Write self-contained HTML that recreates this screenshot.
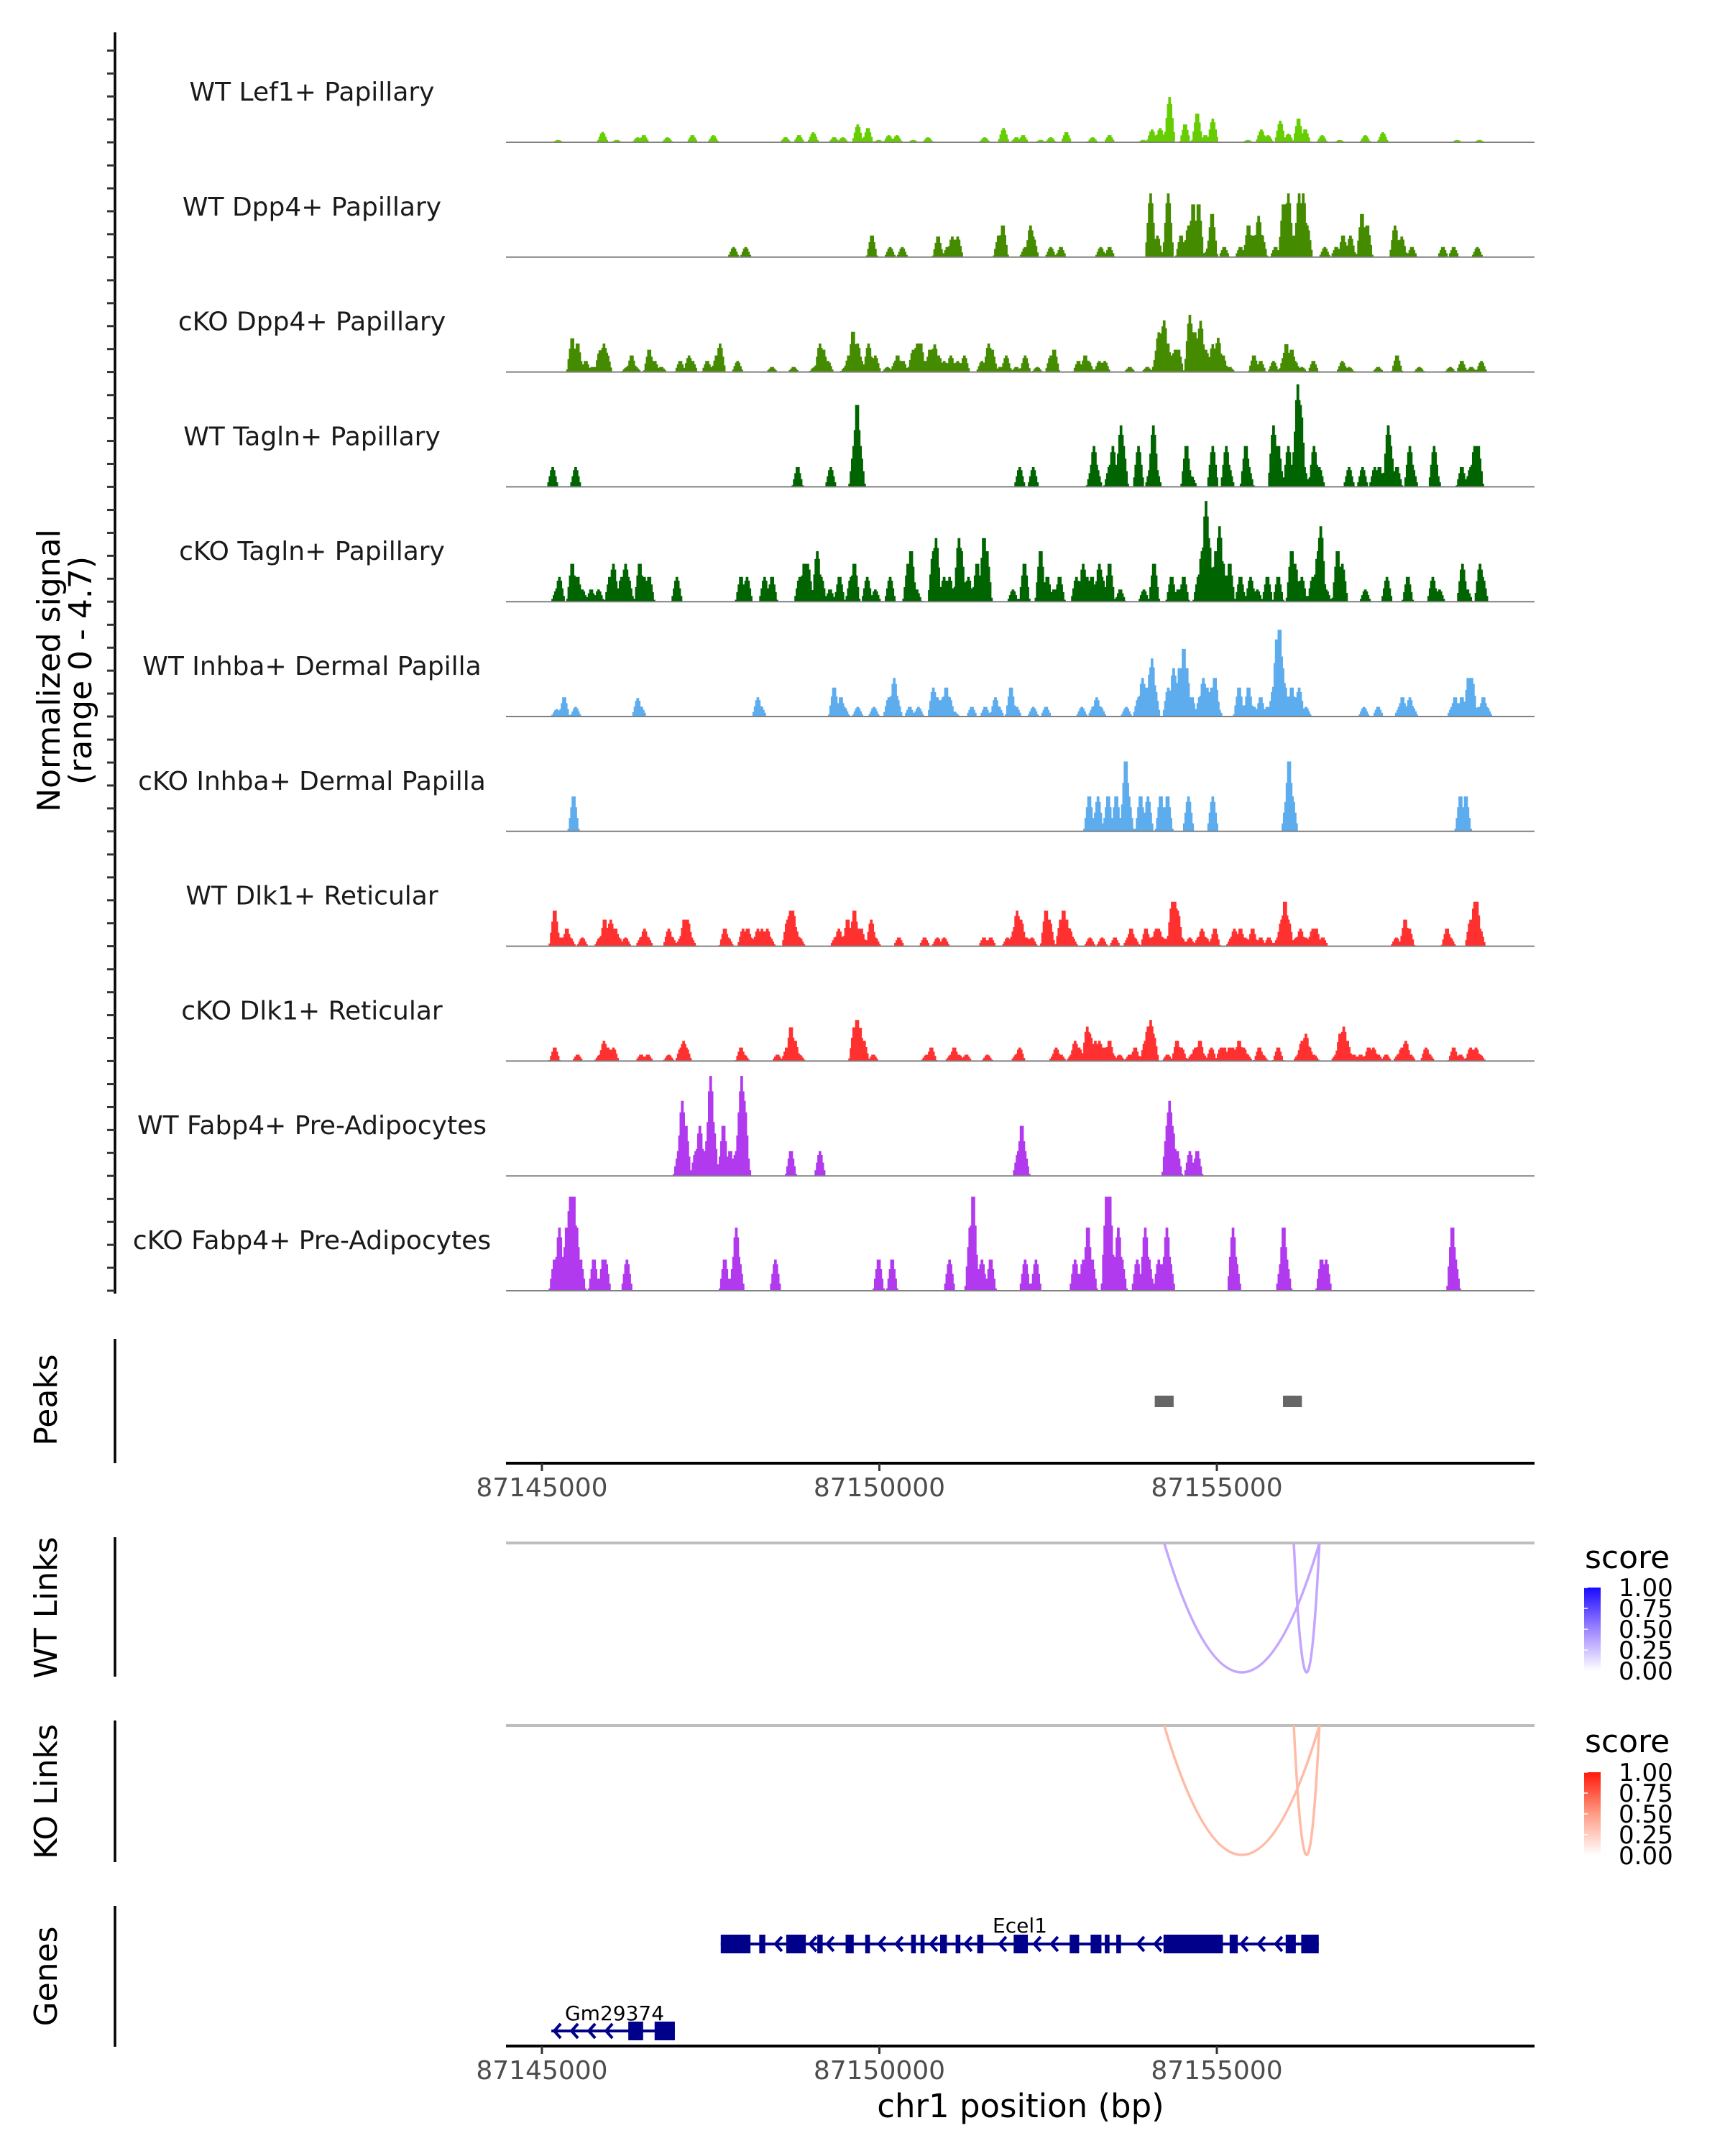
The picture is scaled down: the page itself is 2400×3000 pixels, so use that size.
<!DOCTYPE html>
<html><head><meta charset="utf-8"><title>Coverage plot chr1</title>
<style>
html,body{margin:0;padding:0;background:#fff;}
svg{display:block;font-family:"DejaVu Sans","Liberation Sans",sans-serif;}
</style></head>
<body>
<svg id="chart" xmlns="http://www.w3.org/2000/svg" width="2400" height="3000" viewBox="0 0 2400 3000">
<defs>
<linearGradient id="gradBlue" x1="0" y1="0" x2="0" y2="1"><stop offset="0" stop-color="#1a0aff"/><stop offset="0.5" stop-color="#9d85ff"/><stop offset="1" stop-color="#ffffff"/></linearGradient>
<linearGradient id="gradRed" x1="0" y1="0" x2="0" y2="1"><stop offset="0" stop-color="#ff1a0a"/><stop offset="0.5" stop-color="#ff9c85"/><stop offset="1" stop-color="#ffffff"/></linearGradient>
</defs>
<rect x="0" y="0" width="2400" height="3000" fill="#ffffff"/>
<g font-size="44" fill="#000">
<text transform="translate(83,933) rotate(-90)" text-anchor="middle">Normalized signal</text>
<text transform="translate(127,933) rotate(-90)" text-anchor="middle">(range 0 - 4.7)</text>
</g>
<text transform="translate(79,1948) rotate(-90)" text-anchor="middle" font-size="44">Peaks</text>
<text transform="translate(79,2237) rotate(-90)" text-anchor="middle" font-size="44">WT Links</text>
<text transform="translate(79,2493) rotate(-90)" text-anchor="middle" font-size="44">KO Links</text>
<text transform="translate(79,2750) rotate(-90)" text-anchor="middle" font-size="44">Genes</text>
<text x="1420" y="2946" text-anchor="middle" font-size="45">chr1 position (bp)</text>
<g id="legends"></g>
</svg>
<script>
// ---------- data ----------
const trackNames = ["WT Lef1+ Papillary","WT Dpp4+ Papillary","cKO Dpp4+ Papillary","WT Tagln+ Papillary","cKO Tagln+ Papillary","WT Inhba+ Dermal Papilla","cKO Inhba+ Dermal Papilla","WT Dlk1+ Reticular","cKO Dlk1+ Reticular","WT Fabp4+ Pre-Adipocytes","cKO Fabp4+ Pre-Adipocytes"];
const trackColors = ["#66cd00","#458b00","#458b00","#006400","#006400","#5cacee","#5cacee","#ff3030","#ff3030","#b23aee","#b23aee"];
// signal peaks: [kb offset from DATA_ORIGIN, normalized signal]
const sigLef1 = [[0.18,.1],[0.84,.45],[1.05,.1],[1.36,.22],[1.45,.31],[1.8,.22],[2.17,.31],[2.48,.31],[3.55,.22],[3.75,.31],[3.96,.44],[4.27,.22],[4.4,.22],[4.62,.78],[4.77,.62],[4.93,.1],[5.08,.31],[5.2,.31],[5.44,.1],[5.66,.22],[6.5,.22],[6.78,.62],[6.97,.22],[7.07,.31],[7.33,.1],[7.48,.22],[7.71,.44],[8.1,.22],[8.35,.31],[8.85,.1],[8.98,.56],[9.1,.62],[9.24,1.97],[9.47,.78],[9.65,1.25],[9.77,.31],[9.88,1.03],[10.4,.1],[10.6,.56],[10.7,.31],[10.88,.94],[11.0,.38],[11.15,1.03],[11.25,.56],[11.5,.31],[11.76,.1],[12.14,.31],[12.4,.44],[13.5,.1],[13.83,.1]];
const sigWtDpp4 = [[2.78,.44],[2.96,.44],[4.83,.94],[5.1,.44],[5.28,.44],[5.81,.9],[5.95,.44],[6.02,.9],[6.1,.9],[6.71,.94],[6.77,1.38],[7.1,.44],[7.18,1.38],[7.22,.9],[7.48,.44],[7.63,.44],[8.22,.44],[8.35,.44],[8.96,2.78],[9.06,.94],[9.22,2.78],[9.41,.94],[9.52,1.38],[9.59,2.3],[9.67,2.3],[9.82,.44],[9.87,1.88],[10.05,.44],[10.29,.44],[10.41,1.38],[10.49,.94],[10.56,1.8],[10.61,.94],[10.81,.44],[10.93,2.3],[11.0,2.78],[11.08,.94],[11.16,2.78],[11.22,2.78],[11.28,1.38],[11.54,.44],[11.71,.44],[11.81,.94],[11.92,.94],[12.09,1.88],[12.17,1.38],[12.58,1.38],[12.68,.9],[12.83,.44],[13.29,.44],[13.45,.44],[13.8,.44]];
const sigKoDpp4 = [[.39,1.47],[.47,1.24],[.59,.48],[.69,.22],[.8,.95],[.86,1.24],[.9,.84],[1.2,.22],[1.27,.72],[1.33,.22],[1.53,.97],[1.61,.48],[1.71,.22],[1.99,.48],[2.12,.72],[2.17,.48],[2.39,.48],[2.43,.22],[2.53,.72],[2.58,1.24],[2.84,.48],[3.35,.22],[3.67,.22],[3.98,.22],[4.06,1.24],[4.11,.97],[4.18,.48],[4.44,.22],[4.49,.72],[4.55,1.75],[4.62,1.24],[4.67,.48],[4.78,1.24],[4.88,.72],[5.06,.22],[5.18,.48],[5.21,.72],[5.29,.48],[5.44,.97],[5.5,1.24],[5.55,1.24],[5.61,.48],[5.69,.97],[5.76,1.2],[5.82,.72],[5.9,.48],[6.0,.72],[6.1,.48],[6.2,.72],[6.46,.48],[6.56,1.24],[6.61,.97],[6.73,.22],[6.82,.72],[6.97,.22],[7.1,.72],[7.28,.22],[7.48,.72],[7.53,.97],[7.89,.48],[7.99,.72],[8.04,.48],[8.2,.48],[8.28,.48],[8.65,.22],[8.91,.22],[9.06,.97],[9.08,1.73],[9.14,1.99],[9.16,2.25],[9.21,1.24],[9.27,.72],[9.32,.97],[9.37,.97],[9.54,2.49],[9.61,1.73],[9.67,1.47],[9.7,2.23],[9.78,.97],[9.88,1.21],[9.96,1.49],[10.03,.72],[10.13,.22],[10.49,.72],[10.59,.48],[10.78,.48],[10.94,.72],[10.97,1.21],[11.05,.97],[11.1,.48],[11.2,.22],[11.37,.48],[11.8,.48],[11.9,.22],[12.33,.22],[12.61,.72],[12.94,.22],[13.4,.22],[13.57,.48],[13.71,.22],[13.86,.48]];
const sigWtTagln = [[.1,.86],[.44,.86],[3.73,.86],[4.22,.86],[4.57,1.78],[4.61,3.57],[4.65,1.78],[7.02,.86],[7.22,.86],[8.09,.86],[8.12,1.78],[8.16,.86],[8.35,.86],[8.4,1.78],[8.45,.86],[8.52,2.68],[8.55,1.78],[8.78,1.78],[8.96,.86],[9.0,2.68],[9.04,.86],[9.49,1.78],[9.52,.86],[9.57,.43],[9.88,1.78],[10.08,1.78],[10.12,.86],[10.37,1.78],[10.41,.86],[10.78,2.68],[10.85,1.78],[11.0,1.78],[11.1,1.78],[11.14,4.47],[11.18,3.57],[11.23,.86],[11.38,1.78],[11.46,.86],[11.9,.86],[12.1,.86],[12.28,.86],[12.35,.86],[12.48,2.68],[12.51,1.78],[12.61,.86],[12.8,1.78],[12.84,.86],[13.16,1.78],[13.18,.86],[13.57,.86],[13.7,.86],[13.76,1.78],[13.81,1.78]];
const sigKoTagln = [[.16,.53],[.2,1.08],[.39,1.65],[.47,1.08],[.54,.53],[.67,.53],[.78,.53],[.95,1.08],[1.0,1.65],[1.06,.53],[1.12,1.08],[1.18,1.65],[1.22,1.08],[1.39,1.65],[1.46,1.08],[1.53,1.08],[1.94,1.08],[2.89,1.08],[2.98,1.08],[3.24,1.08],[3.35,1.08],[3.76,1.08],[3.83,1.65],[3.88,1.65],[4.02,2.2],[4.08,1.08],[4.21,.53],[4.35,1.08],[4.52,1.08],[4.57,1.65],[4.76,1.08],[4.88,.53],[5.1,1.08],[5.37,1.65],[5.41,2.2],[5.49,.53],[5.74,2.2],[5.78,2.77],[5.9,1.08],[5.98,1.08],[6.12,2.77],[6.15,2.2],[6.26,1.08],[6.39,1.65],[6.49,2.77],[6.53,2.2],[6.92,.53],[7.09,1.65],[7.33,2.2],[7.43,1.08],[7.53,.53],[7.61,1.08],[7.86,1.08],[7.96,1.65],[8.02,1.08],[8.09,1.08],[8.2,1.65],[8.24,1.08],[8.35,1.65],[8.51,.53],[8.86,.53],[9.01,1.65],[9.27,1.08],[9.37,.53],[9.45,1.08],[9.67,1.08],[9.72,2.2],[9.78,4.39],[9.82,2.77],[9.93,2.2],[9.98,3.29],[10.03,1.65],[10.13,1.65],[10.29,1.08],[10.44,1.08],[10.54,.53],[10.69,1.08],[10.85,1.08],[11.05,2.2],[11.1,1.65],[11.2,1.08],[11.36,1.08],[11.44,2.2],[11.48,3.29],[11.56,.53],[11.73,2.2],[11.8,1.65],[12.14,.53],[12.46,1.08],[12.77,1.08],[13.14,1.08],[13.24,.53],[13.58,1.65],[13.65,.53],[13.84,1.65],[13.88,1.08]];
const sigWtInhba = [[.16,.32],[.27,.84],[.44,.42],[1.36,.81],[1.41,.42],[3.14,.84],[3.19,.42],[4.27,1.26],[4.37,.84],[4.42,.42],[4.62,.42],[4.86,.42],[5.08,.84],[5.16,1.68],[5.2,.84],[5.39,.42],[5.52,.42],[5.74,1.26],[5.8,.84],[5.88,.84],[5.93,1.26],[5.98,.84],[6.05,.21],[6.31,.42],[6.51,.42],[6.66,.84],[6.71,.42],[6.89,1.26],[6.97,.42],[7.22,.42],[7.41,.42],[7.94,.42],[8.11,.42],[8.16,.84],[8.22,.42],[8.6,.42],[8.78,.84],[8.84,1.68],[8.89,1.26],[8.96,2.15],[8.98,2.53],[9.02,1.26],[9.22,1.26],[9.3,2.11],[9.35,1.26],[9.39,2.11],[9.45,2.95],[9.49,2.11],[9.57,.84],[9.69,.84],[9.74,1.68],[9.8,1.26],[9.86,1.26],[9.91,1.68],[9.95,.42],[10.27,1.26],[10.34,.42],[10.41,1.26],[10.49,.42],[10.59,.84],[10.69,.42],[10.78,1.26],[10.83,3.36],[10.87,3.78],[10.91,2.11],[10.95,1.26],[11.05,1.26],[11.1,.84],[11.16,1.26],[11.26,.42],[12.12,.42],[12.33,.42],[12.65,.42],[12.69,.84],[12.8,.84],[12.84,.42],[13.43,.42],[13.47,.84],[13.57,.84],[13.67,1.68],[13.72,1.68],[13.83,.42],[13.89,.84],[13.94,.42]];
const sigKoInhba = [[.41,1.52],[8.05,1.52],[8.18,1.52],[8.33,1.52],[8.45,1.52],[8.59,3.05],[8.63,1.52],[8.81,1.52],[8.92,1.52],[9.11,1.52],[9.21,1.52],[9.52,1.52],[9.88,1.52],[10.98,1.52],[11.01,3.05],[11.06,1.52],[13.55,1.52],[13.63,1.52]];
const sigWtDlk1 = [[.13,1.55],[.23,.38],[.31,.76],[.36,.38],[.54,.38],[.8,.38],[.87,1.16],[.92,.76],[.96,1.16],[1.03,.76],[1.08,.38],[1.18,.38],[1.41,.38],[1.46,.76],[1.51,.38],[1.82,.76],[1.87,.38],[2.0,.38],[2.05,1.16],[2.1,1.16],[2.15,.38],[2.65,.76],[2.7,.38],[2.92,.76],[2.99,.76],[3.04,.38],[3.14,.76],[3.2,.76],[3.28,.76],[3.32,.38],[3.58,1.16],[3.62,1.55],[3.66,1.55],[3.7,.76],[3.76,.38],[4.29,.38],[4.34,.76],[4.4,.38],[4.47,1.16],[4.52,.76],[4.57,1.55],[4.62,.76],[4.67,.76],[4.82,1.16],[4.88,.38],[5.23,.38],[5.61,.38],[5.8,.38],[5.9,.38],[6.49,.38],[6.59,.38],[6.84,.38],[6.94,.76],[6.98,1.55],[7.04,1.16],[7.12,.38],[7.2,.38],[7.41,1.55],[7.46,1.16],[7.63,1.16],[7.67,1.55],[7.71,1.16],[7.76,.76],[7.8,.38],[8.06,.38],[8.24,.38],[8.43,.38],[8.63,.38],[8.67,.76],[8.72,.38],[8.89,.76],[8.96,.38],[9.04,.76],[9.08,.76],[9.14,.38],[9.22,.38],[9.28,1.94],[9.32,1.94],[9.36,1.55],[9.42,.38],[9.54,.38],[9.67,.38],[9.72,.76],[9.78,.38],[9.88,.38],[9.91,.76],[10.16,.38],[10.2,.76],[10.29,.76],[10.36,.38],[10.47,.76],[10.59,.38],[10.71,.38],[10.85,.38],[10.9,1.16],[10.95,1.94],[11.0,1.16],[11.12,.38],[11.18,.76],[11.26,.38],[11.36,.76],[11.41,.76],[11.51,.38],[12.6,.38],[12.73,1.16],[12.79,.76],[13.35,.76],[13.4,.38],[13.7,1.16],[13.76,1.94],[13.79,1.94],[13.84,.76]];
const sigKoDlk1 = [[.13,.59],[.47,.28],[.8,.28],[.86,.88],[.92,.59],[1.0,.59],[1.41,.28],[1.51,.28],[1.82,.28],[2.0,.59],[2.04,.88],[2.08,.59],[2.89,.59],[2.94,.28],[3.43,.28],[3.57,.59],[3.63,1.47],[3.69,.88],[3.76,.28],[4.57,1.47],[4.61,1.79],[4.65,1.45],[4.71,.88],[4.85,.28],[5.64,.28],[5.71,.59],[6.0,.28],[6.05,.59],[6.12,.28],[6.23,.28],[6.54,.28],[6.97,.28],[7.02,.59],[7.53,.28],[7.56,.59],[7.63,.28],[7.79,.28],[7.84,.88],[7.9,.59],[8.02,1.5],[8.06,1.19],[8.14,.88],[8.2,.88],[8.27,.59],[8.35,.88],[8.4,.28],[8.5,.28],[8.65,.28],[8.73,.59],[8.88,.88],[8.92,1.5],[8.96,1.79],[9.0,1.19],[9.21,.28],[9.35,.88],[9.42,.59],[9.57,.28],[9.62,.59],[9.69,.88],[9.74,.28],[9.86,.59],[10.0,.59],[10.05,.59],[10.13,.59],[10.18,.59],[10.27,.88],[10.34,.59],[10.39,.28],[10.57,.59],[10.62,.28],[10.85,.59],[11.15,.28],[11.2,.88],[11.26,1.19],[11.31,.59],[11.38,.28],[11.71,.28],[11.77,1.19],[11.82,1.5],[11.87,.88],[11.97,.28],[12.07,.28],[12.19,.59],[12.26,.59],[12.33,.28],[12.45,.28],[12.63,.28],[12.68,.59],[12.74,.88],[12.81,.28],[13.04,.59],[13.09,.28],[13.45,.59],[13.55,.28],[13.7,.59],[13.78,.59],[13.84,.28]];
const sigWtFabp4 = [[1.97,1.08],[2.02,3.27],[2.07,2.18],[2.22,1.08],[2.28,2.18],[2.33,1.08],[2.41,2.18],[2.44,4.36],[2.48,2.18],[2.63,2.18],[2.73,1.08],[2.82,1.08],[2.88,3.27],[2.9,4.36],[2.94,3.27],[2.96,1.08],[3.63,1.08],[4.06,1.08],[7.0,1.08],[7.05,2.18],[7.09,1.08],[9.21,2.18],[9.24,3.27],[9.28,2.18],[9.35,1.08],[9.54,1.08],[9.65,1.08]];
const sigKoFabp4 = [[.13,1.36],[.2,2.75],[.27,1.36],[.31,2.75],[.36,4.1],[.41,4.1],[.45,2.75],[.51,1.36],[.71,1.36],[.85,1.36],[.88,1.36],[1.2,1.36],[2.65,1.36],[2.79,1.36],[2.82,2.75],[2.86,1.36],[3.4,1.36],[4.93,1.36],[5.13,1.36],[5.98,1.36],[6.29,2.75],[6.33,4.1],[6.37,1.36],[6.46,1.36],[6.59,1.36],[7.1,1.36],[7.26,1.36],[7.84,1.36],[7.96,1.36],[8.03,2.75],[8.09,1.36],[8.31,4.1],[8.35,4.1],[8.39,1.36],[8.48,2.75],[8.53,1.36],[8.76,1.36],[8.86,1.36],[8.88,2.75],[8.93,1.36],[9.08,1.36],[9.16,1.36],[9.2,2.75],[9.24,1.36],[10.18,2.75],[10.22,1.36],[10.9,1.36],[10.93,2.75],[10.97,1.36],[11.49,1.36],[11.56,1.36],[13.43,2.75],[13.47,1.36]];
const signals = [sigLef1,sigWtDpp4,sigKoDpp4,sigWtTagln,sigKoTagln,sigWtInhba,sigKoInhba,sigWtDlk1,sigKoDlk1,sigWtFabp4,sigKoFabp4];
const xTicks = [87145000,87150000,87155000];
const peakRegions = [[87154080,87154360],[87155980,87156260]];
const wtLinks = [[87154220,87156520,0.35],[87156140,87156520,0.35]];
const koLinks = [[87154220,87156520,0.3],[87156140,87156520,0.3]];
const legendLabels = ["1.00","0.75","0.50","0.25","0.00"];
const ecel1Span = [87147650,87156510];
const ecel1Exons = [[87147650,87148090],[87148220,87148310],[87148620,87148910],[87149080,87149160],[87149500,87149620],[87149790,87149860],[87150470,87150540],[87150610,87150670],[87150900,87151000],[87151130,87151200],[87151450,87151540],[87151990,87152200],[87152820,87152960],[87153130,87153290],[87153340,87153410],[87153510,87153580],[87154210,87155090],[87155190,87155310],[87156020,87156170],[87156250,87156510]];
const gmSpan = [87145140,87146970];
const gmExons = [[87146280,87146500],[87146670,87146970]];

// ---------- scales ----------
const DATA_ORIGIN = 87145060;
const X0 = 704, X1 = 2135, DOM0 = 87144468, DOM1 = 87159707;
function xs(bp){ return X0 + (bp - DOM0) / (DOM1 - DOM0) * (X1 - X0); }
function xk(kb){ return xs(DATA_ORIGIN + kb * 1000); }
const TRACK0 = 198, TRACK_STEP = 159.8, TRACK_H = 150, YMAX = 4.7;
function ys(base, v){ return base - v / YMAX * TRACK_H; }

const NS = 'http://www.w3.org/2000/svg';
const svg = document.getElementById('chart');
function mk(tag, attrs, parent){
  const e = document.createElementNS(NS, tag);
  for (const k in attrs) e.setAttribute(k, attrs[k]);
  (parent || svg).appendChild(e);
  return e;
}

// ---------- signal tracks ----------
const BIN = 0.02, KMIN = -0.6, KMAX = 15.3;
function binValue(peaks, c){
  let m = 0;
  for (const p of peaks){
    const d = Math.abs(c - p[0]);
    let v = 0;
    if (d <= 0.02) v = p[1];
    else if (d < 0.085) v = p[1] * (1 - (d - 0.02) / 0.065);
    if (v > m) m = v;
  }
  return m;
}
const yAxis = mk('line', {x1:160, y1:45, x2:160, y2:1800, stroke:'#000', 'stroke-width':3.5});


signals.forEach((peaks, i) => {
  const base = TRACK0 + i * TRACK_STEP;
  const g = mk('g', {});
  
  
  const lbl = mk('text', {x:434, y:base - 58, 'text-anchor':'middle', 'font-size':36, fill:'#1a1a1a'}, g);
  lbl.textContent = trackNames[i];
  
  
  for (let t = 0; t <= 4; t++){
    const tk = mk('line', {x1:149, x2:160, y1:ys(base, t), y2:ys(base, t), stroke:'#333', 'stroke-width':3}, g);
    
    
  }
  let d = '', run = false, lastX = 0;
  for (let k = KMIN; k < KMAX; k += BIN){
    const v = binValue(peaks, k + BIN / 2);
    const xa = xk(k), xb = xk(k + BIN);
    if (v > 0.005){
      if (!run){ d += 'M' + xa.toFixed(1) + ' ' + base; run = true; }
      const y = ys(base, v).toFixed(1);
      d += 'L' + xa.toFixed(1) + ' ' + y + 'L' + xb.toFixed(1) + ' ' + y;
      lastX = xb;
    } else if (run){ d += 'L' + lastX.toFixed(1) + ' ' + base + 'Z'; run = false; }
  }
  if (run) d += 'L' + lastX.toFixed(1) + ' ' + base + 'Z';
  const area = mk('path', {d:d, fill:trackColors[i]}, g);
  
  
  const bl = mk('line', {x1:X0, x2:X1, y1:base, y2:base, stroke:'#808080', 'stroke-width':2}, g);
  
  
});

// ---------- peaks ----------
const pAx = mk('line', {x1:160, y1:1863, x2:160, y2:2036, stroke:'#000', 'stroke-width':3.5});


peakRegions.forEach(r => {
  const pr = mk('rect', {x:xs(r[0]), y:1942, width:xs(r[1]) - xs(r[0]), height:16, fill:'#666666'});
  
  
});
function xAxis(yLine, name){
  const g = mk('g', {});
  
  
  const l = mk('line', {x1:X0, x2:X1, y1:yLine, y2:yLine, stroke:'#000', 'stroke-width':4}, g);
  
  
  xTicks.forEach(t => {
    const tk = mk('line', {x1:xs(t), x2:xs(t), y1:yLine, y2:yLine + 11, stroke:'#333', 'stroke-width':3}, g);
    
    
    const tl = mk('text', {x:xs(t), y:yLine + 46, 'text-anchor':'middle', 'font-size':36, fill:'#4d4d4d'}, g);
    tl.textContent = String(t);
    
    
  });
}
xAxis(2036, 'peaks-x-axis');

// ---------- links ----------
function linksPanel(links, lineY, axTop, axBot, color, name){
  const g = mk('g', {});
  
  
  const ax = mk('line', {x1:160, x2:160, y1:axTop, y2:axBot, stroke:'#000', 'stroke-width':3.5}, g);
  
  
  const gl = mk('line', {x1:X0, x2:X1, y1:lineY, y2:lineY, stroke:'#bebebe', 'stroke-width':4}, g);
  
  
  links.forEach(lk => {
    const a = xs(lk[0]), b = xs(lk[1]);
    const depth = 180;
    const p = mk('path', {d:'M' + a + ' ' + lineY + ' Q' + ((a + b) / 2) + ' ' + (lineY + 2 * depth) + ' ' + b + ' ' + lineY, fill:'none', stroke:color, 'stroke-width':3.5}, g);
    
    
  });
}
linksPanel(wtLinks, 2147, 2139, 2333, '#c4a6ff', 'wt-links-panel');
linksPanel(koLinks, 2401, 2394, 2591, '#ffbba6', 'ko-links-panel');

function legend(titleY, barTop, grad, name){
  const g = mk('g', {});
  
  
  const t = mk('text', {x:2205, y:titleY, 'font-size':44}, g);
  t.textContent = 'score';
  
  
  const bar = mk('rect', {x:2204, y:barTop, width:23, height:116, fill:'url(#' + grad + ')'}, g);
  
  
  legendLabels.forEach((s, i) => {
    const y = barTop + i * 29;
    const tl = mk('text', {x:2252, y:y + 12, 'font-size':34}, g);
    tl.textContent = s;
    
    
    const tk = mk('line', {x1:2204, x2:2209, y1:y, y2:y, stroke:'#fff', 'stroke-width':1.5}, g);
    
    
  });
}
legend(2182, 2209, 'gradBlue', 'wt-score-legend');
legend(2438, 2466, 'gradRed', 'ko-score-legend');

// ---------- genes ----------
const gAx = mk('line', {x1:160, x2:160, y1:2652, y2:2848, stroke:'#000', 'stroke-width':3.5});


function gene(span, exons, cy, label, labelX, labelY, name){
  const g = mk('g', {});
  
  
  const a = xs(span[0]), b = xs(span[1]);
  const ln = mk('line', {x1:a, x2:b, y1:cy, y2:cy, stroke:'#00008b', 'stroke-width':4}, g);
  
  
  const ex = exons.map(e => [xs(e[0]), xs(e[1])]);
  for (let x = a + 4; x < b - 6; x += 24){
    if (ex.some(e => x > e[0] - 10 && x < e[1] + 3)) continue;
    const ch = mk('polyline', {points:(x + 9) + ',' + (cy - 10) + ' ' + x + ',' + cy + ' ' + (x + 9) + ',' + (cy + 10), fill:'none', stroke:'#00008b', 'stroke-width':4}, g);
    
    
  }
  ex.forEach(e => {
    const r = mk('rect', {x:e[0], y:cy - 13, width:Math.max(5, e[1] - e[0]), height:26, fill:'#00008b'}, g);
    
    
  });
  const t = mk('text', {x:labelX, y:labelY, 'text-anchor':'middle', 'font-size':28}, g);
  t.textContent = label;
  
  
}
gene(ecel1Span, ecel1Exons, 2705, 'Ecel1', 1419, 2689, 'gene-ecel1');
gene(gmSpan, gmExons, 2826, 'Gm29374', 855, 2811, 'gene-gm29374');
xAxis(2847, 'genes-x-axis');
</script>
</body></html>
